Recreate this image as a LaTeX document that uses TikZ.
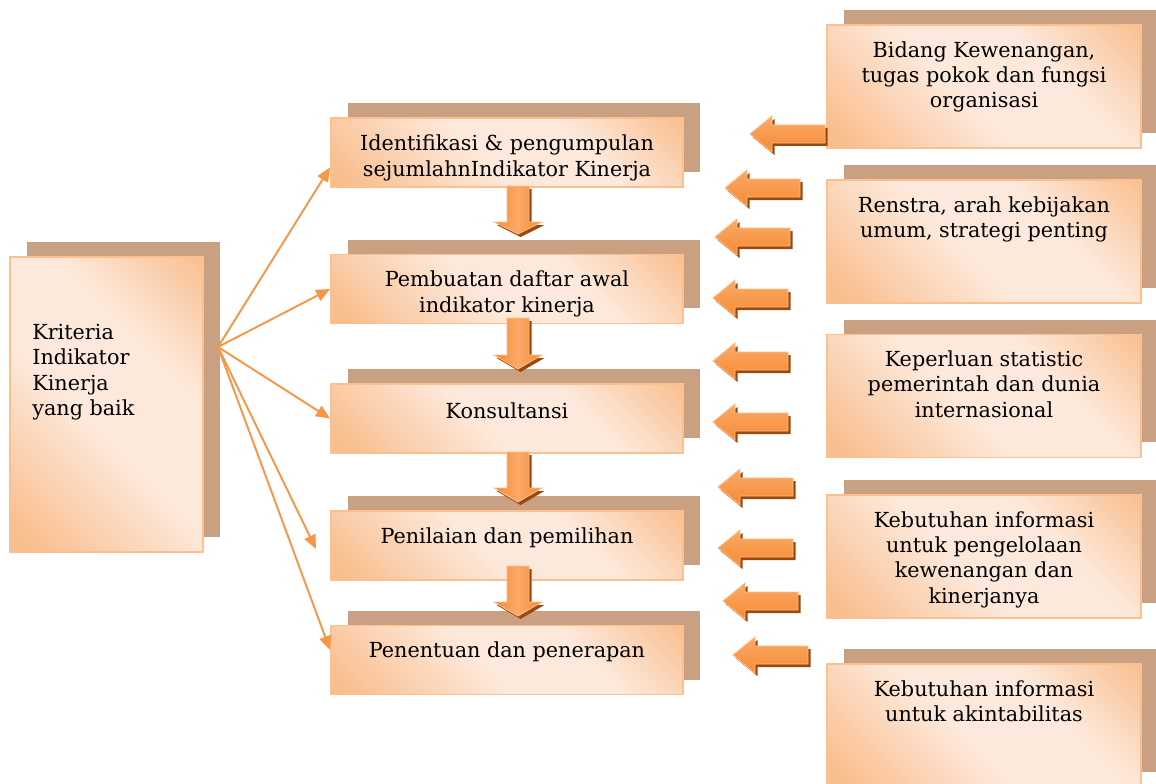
\documentclass[tikz,border=0pt]{standalone}
\usepackage{fontspec}
\setmainfont{DejaVu Serif}
\usetikzlibrary{arrows.meta,positioning,shadows}

\definecolor{pkdark}{HTML}{F9BE8E}
\definecolor{pklight}{HTML}{FDE9DB}
\definecolor{boxline}{HTML}{FAC090}
\definecolor{shadowbrown}{HTML}{C9A182}
\definecolor{fanorange}{HTML}{F79646}
\definecolor{arrlight}{HTML}{FAAA68}
\definecolor{arrdark}{HTML}{F68A32}
\definecolor{arredge}{HTML}{FBBE8A}
\definecolor{arrshadow}{HTML}{9A4A0E}

\pgfdeclarehorizontalshading{peach}{100bp}{color(0bp)=(pkdark); color(18bp)=(pkdark); color(45bp)=(pklight); color(64bp)=(pklight); color(86bp)=(pkdark); color(100bp)=(pkdark)}

\tikzset{
	box/.style={draw=boxline, line width=1.1pt, shading=peach, shading angle=45, inner sep=0pt,
			drop shadow={shadow xshift=0.34cm, shadow yshift=0.3cm, fill=shadowbrown, opacity=1}},
	midbox/.style={box, minimum width=7.04cm, minimum height=1.38cm},
	sidebox/.style={box, minimum width=6.28cm, minimum height=2.46cm},
	boxtext/.style={inner sep=0pt, align=center},
	fanline/.style={draw=fanorange, line width=1.1pt, -{Triangle[length=0.28cm,width=0.24cm]}},
	blockarr/.style={preaction={fill=arrshadow, transform canvas={shift={(0.05cm,-0.06cm)}}},
			draw=arredge, line width=0.5pt}
}

\begin{document}
\begin{tikzpicture}[x=0.02cm, y=-0.02cm, font=\fontsize{11.8}{14.4}\selectfont]
	\useasboundingbox (0,0) rectangle (1156,784);

	% Kriteria box on the left
	\node[box, minimum width=3.86cm, minimum height=5.9cm] (kriteria) at (106.5,404.5) {};
	\node[boxtext, align=left, anchor=north west] (kriteriatxt) at (32,324) {Kriteria\\Indikator\\Kinerja\\yang baik};

	% Steps in the middle
	\node[midbox] (identif) at (507,152.5) {};
	\node[boxtext] (identiftxt) at ([yshift=-0.11cm]identif.center) {Identifikasi \& pengumpulan\\sejumlahnIndikator Kinerja};
	\node[midbox] (pembuatan) at (507,289) {};
	\node[boxtext] (pembuatantxt) at ([yshift=-0.1cm]pembuatan.center) {Pembuatan daftar awal\\indikator kinerja};
	\node[midbox] (konsultansi) at (507,418.5) {};
	\node[boxtext] (konsultansitxt) at ([yshift=0.16cm]konsultansi.center) {Konsultansi};
	\node[midbox] (penilaian) at (507,545.5) {};
	\node[boxtext] (penilaiantxt) at ([yshift=0.15cm]penilaian.center) {Penilaian dan pemilihan};
	\node[midbox] (penentuan) at (507,660) {};
	\node[boxtext] (penentuantxt) at ([yshift=0.16cm]penentuan.center) {Penentuan dan penerapan};

	% Inputs on the right
	\node[sidebox] (bidang) at (984,86.5) {};
	\node[boxtext, below=0.34cm of bidang.north] (bidangtxt) {Bidang Kewenangan,\\tugas pokok dan fungsi\\organisasi};
	\node[sidebox] (renstra) at (984,241.5) {};
	\node[boxtext, below=0.34cm of renstra.north] (renstratxt) {Renstra, arah kebijakan\\umum, strategi penting};
	\node[sidebox] (keperluan) at (984,396) {};
	\node[boxtext, below=0.34cm of keperluan.north] (keperluantxt) {Keperluan statistic\\pemerintah dan dunia\\internasional};
	\node[sidebox] (kebutuhan) at (984,556.5) {};
	\node[boxtext, below=0.34cm of kebutuhan.north] (kebutuhantxt) {Kebutuhan informasi\\untuk pengelolaan\\kewenangan dan\\kinerjanya};
	\node[sidebox] (akuntab) at (984,725.5) {};
	\node[boxtext, below=0.34cm of akuntab.north] (akuntabtxt) {Kebutuhan informasi\\untuk akintabilitas};

	% Fan of arrows from the criteria
	\coordinate (hub) at (218,347);
	\coordinate (penilaianend) at (316,549);
	\draw[fanline] (hub) -- ([yshift=-0.3cm]identif.west);
	\draw[fanline] (hub) -- (pembuatan.west);
	\draw[fanline] (hub) -- (konsultansi.west);
	\draw[fanline] (hub) -- (penilaianend);
	\draw[fanline] (hub) -- ([yshift=0.2cm]penentuan.west);

	% Block arrows going down
	\foreach \tp/\hd/\tip in {186/222/234, 318/355/369, 452/488/502, 566/602/616}
	\path[blockarr, left color=arrdark, right color=arrdark, middle color=arrlight]
		(507,\tp) -- (529,\tp) -- (529,\hd) -- (542,\hd) -- (518,\tip) -- (494,\hd) -- (507,\hd) -- cycle;

	% Block arrows pointing left
	\foreach \tx/\ty/\ex in {750/134/825, 725/188/800, 715/237/790, 713/298/788, 713/361/788,
			713/422/788, 718/487/793, 718/548/793, 723/601/798, 733/655/808}
	\path[blockarr, top color=arrlight, bottom color=arrdark]
		(\tx,\ty) -- (\tx+22,\ty-18) -- (\tx+22,\ty-9) -- (\ex,\ty-9) -- (\ex,\ty+9)
		-- (\tx+22,\ty+9) -- (\tx+22,\ty+18) -- cycle;
\end{tikzpicture}
\end{document}
